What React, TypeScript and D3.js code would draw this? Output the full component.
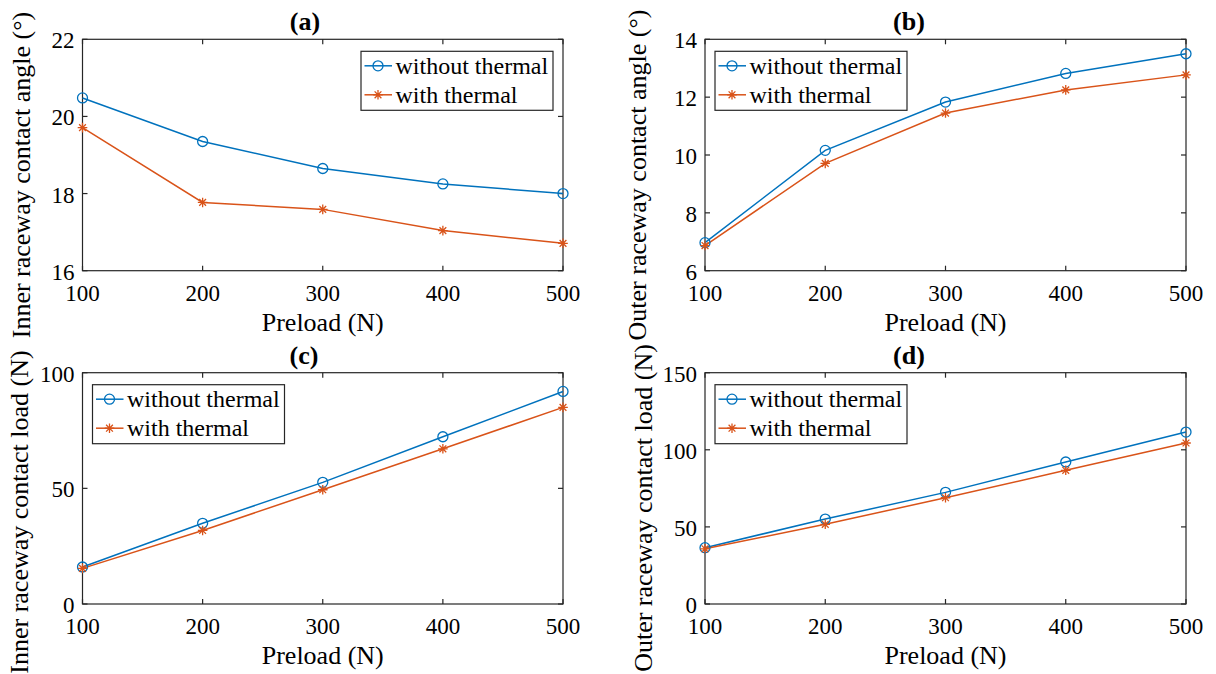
import React from 'react';
import * as d3 from 'd3';

// Preload values (x axis, N)
const preload = [100, 200, 300, 400, 500];
const xTicks = [100, 200, 300, 400, 500];

// (a) inner raceway contact angle (deg)
const innerAngleWithout = [20.48, 19.35, 18.65, 18.25, 18.0];
const innerAngleWith = [19.71, 17.77, 17.59, 17.04, 16.71];
const innerAngleTicks = [16, 18, 20, 22];

// (b) outer raceway contact angle (deg)
const outerAngleWithout = [6.97, 10.16, 11.83, 12.82, 13.5];
const outerAngleWith = [6.87, 9.71, 11.45, 12.25, 12.77];
const outerAngleTicks = [6, 8, 10, 12, 14];

// (c) inner raceway contact load (N)
const innerLoadWithout = [16.0, 34.9, 52.6, 72.3, 91.9];
const innerLoadWith = [15.4, 31.8, 49.4, 67.1, 85.0];
const innerLoadTicks = [0, 50, 100];

// (d) outer raceway contact load (N)
const outerLoadWithout = [36.5, 55.1, 72.4, 92.1, 111.5];
const outerLoadWith = [35.8, 51.7, 68.9, 86.7, 104.4];
const outerLoadTicks = [0, 50, 100, 150];

const seriesNames = ['without thermal', 'with thermal'];

const BLUE = '#0072BD';
const ORANGE = '#D95319';
const AXIS = '#262626';
const FONT = 'Liberation Serif';

const panels = [
  {
    title: '(a)', ylabel: 'Inner raceway contact angle (°)',
    without: innerAngleWithout, withT: innerAngleWith, ticks: innerAngleTicks,
    x0: 82.5, x1: 563, y0: 39.3, y1: 270.7, titleX: 305, labelX: 29.5, labelY: 175, legend: 'right',
  },
  {
    title: '(b)', ylabel: 'Outer raceway contact angle (°)',
    without: outerAngleWithout, withT: outerAngleWith, ticks: outerAngleTicks,
    x0: 705, x1: 1186, y0: 39.3, y1: 270.7, titleX: 909, labelX: 646, labelY: 175, legend: 'left',
  },
  {
    title: '(c)', ylabel: 'Inner raceway contact load (N)',
    without: innerLoadWithout, withT: innerLoadWith, ticks: innerLoadTicks,
    x0: 82.5, x1: 563, y0: 372.7, y1: 604, titleX: 304, labelX: 27.5, labelY: 512, legend: 'left',
  },
  {
    title: '(d)', ylabel: 'Outer raceway contact load (N)',
    without: outerLoadWithout, withT: outerLoadWith, ticks: outerLoadTicks,
    x0: 705, x1: 1186, y0: 372.7, y1: 604, titleX: 909, labelX: 652, labelY: 508, legend: 'left',
  },
];

const Star = ({ x, y, r, color }: { x: number; y: number; r: number; color: string }) => {
  const d = r * Math.SQRT1_2;
  return (
    <path
      d={`M${x - r},${y}L${x + r},${y}M${x},${y - r}L${x},${y + r}M${x - d},${y - d}L${x + d},${y + d}M${x - d},${y + d}L${x + d},${y - d}`}
      stroke={color}
      strokeWidth={1.3}
      fill="none"
    />
  );
};

const T = (props: any) => <text fontFamily={FONT} fill="#000" {...props} />;

const Panel = ({ p }: { p: any }) => {
  const x = d3.scaleLinear().domain([100, 500]).range([p.x0, p.x1]);
  const yDom = d3.extent(p.ticks) as [number, number];
  const y = d3.scaleLinear().domain(yDom).range([p.y1, p.y0]);
  const line = d3.line<number>().x((_, i) => x(preload[i])).y(d => y(d));
  const tl = 5;

  const lw = 192, lh = 59;
  const lx = p.legend === 'right' ? p.x1 - 10 - lw : p.x0 + 10;
  const ly = p.y0 + 12;

  return (
    <g>
      {/* frame */}
      <rect x={p.x0} y={p.y0} width={p.x1 - p.x0} height={p.y1 - p.y0} fill="none" stroke={AXIS} strokeWidth={1.2} />
      {/* x ticks */}
      {xTicks.map(t => (
        <g key={'x' + t}>
          <line x1={x(t)} x2={x(t)} y1={p.y1} y2={p.y1 - tl} stroke={AXIS} strokeWidth={1.2} />
          <line x1={x(t)} x2={x(t)} y1={p.y0} y2={p.y0 + tl} stroke={AXIS} strokeWidth={1.2} />
          <T x={x(t)} y={p.y1 + 30} textAnchor="middle" fontSize={23}>{t}</T>
        </g>
      ))}
      {/* y ticks */}
      {p.ticks.map((t: number) => (
        <g key={'y' + t}>
          <line x1={p.x0} x2={p.x0 + tl} y1={y(t)} y2={y(t)} stroke={AXIS} strokeWidth={1.2} />
          <line x1={p.x1} x2={p.x1 - tl} y1={y(t)} y2={y(t)} stroke={AXIS} strokeWidth={1.2} />
          <T x={p.x0 - 8} y={y(t) + 9} textAnchor="end" fontSize={23}>{t}</T>
        </g>
      ))}
      {/* series */}
      <path d={line(p.without) || ''} fill="none" stroke={BLUE} strokeWidth={1.5} />
      <path d={line(p.withT) || ''} fill="none" stroke={ORANGE} strokeWidth={1.5} />
      {p.without.map((v: number, i: number) => (
        <circle key={'c' + i} cx={x(preload[i])} cy={y(v)} r={5} fill="none" stroke={BLUE} strokeWidth={1.3} />
      ))}
      {p.withT.map((v: number, i: number) => (
        <Star key={'s' + i} x={x(preload[i])} y={y(v)} r={4.8} color={ORANGE} />
      ))}
      {/* labels */}
      <T x={p.titleX} y={p.y0 - 9} textAnchor="middle" fontSize={26} fontWeight="bold">{p.title}</T>
      <T x={(p.x0 + p.x1) / 2} y={p.y1 + 60} textAnchor="middle" fontSize={26}>Preload (N)</T>
      <T transform={`translate(${p.labelX},${p.labelY}) rotate(-90)`} textAnchor="middle" fontSize={26}>{p.ylabel}</T>
      {/* legend */}
      <rect x={lx} y={ly} width={lw} height={lh} fill="#fff" stroke={AXIS} strokeWidth={1.2} />
      {seriesNames.map((name, i) => {
        const cy = ly + 14.5 + i * 29;
        const color = i === 0 ? BLUE : ORANGE;
        return (
          <g key={name}>
            <line x1={lx + 3.5} x2={lx + 31} y1={cy} y2={cy} stroke={color} strokeWidth={1.5} />
            {i === 0
              ? <circle cx={lx + 17} cy={cy} r={5} fill="none" stroke={color} strokeWidth={1.3} />
              : <Star x={lx + 17} y={cy} r={4.8} color={color} />}
            <T x={lx + 34.5} y={cy + 8} fontSize={24}>{name}</T>
          </g>
        );
      })}
    </g>
  );
};

export default function App() {
  return (
    <svg
      width={1216}
      height={674}
      style={{ position: 'absolute', left: 0, top: 0, background: '#fff' }}
    >
      <rect width={1216} height={674} fill="#fff" />
      {panels.map(p => <Panel key={p.title} p={p} />)}
    </svg>
  );
}
